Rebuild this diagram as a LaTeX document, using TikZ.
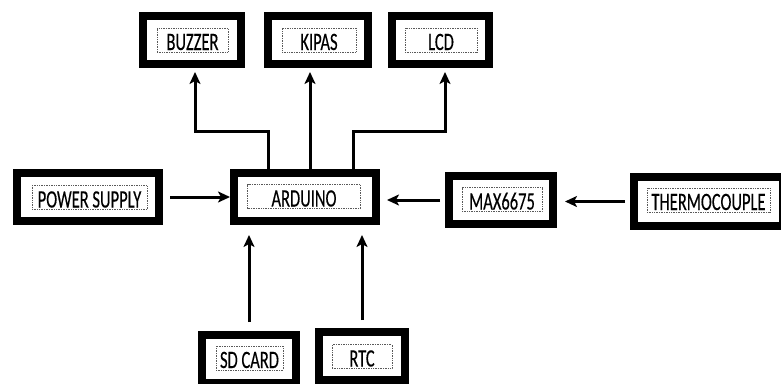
\documentclass[tikz,border=0pt]{standalone}
\usepackage{fontspec}
\setmainfont{Carlito}[FakeStretch=0.66, FakeBold=0.3]
\usetikzlibrary{arrows.meta}

\begin{document}
\begin{tikzpicture}[
      x=1pt, y=-1pt,
      frame/.style={draw, line width=8pt, minimum height=48pt, inner sep=0pt},
      lbl/.style={draw=black!65, densely dotted, line width=0.7pt, inner sep=0pt,
                  text height=22pt, text depth=2pt, font=\fontsize{25}{25}\selectfont},
      arr/.style={-{Stealth[length=12pt,width=11pt,inset=3pt]}, line width=3pt}
    ]
    \useasboundingbox (0,0) rectangle (781,383);

    % outer frames
    \node[frame, minimum width=98pt]  (buzzer)  at (192,40)      {};
    \node[frame, minimum width=100pt] (kipas)   at (318,40)      {};
    \node[frame, minimum width=97pt]  (lcd)     at (440.5,40)    {};
    \node[frame, minimum width=142pt] (psu)     at (88,197)      {};
    \node[frame, minimum width=142pt] (arduino) at (305,197)     {};
    \node[frame, minimum width=104pt] (max)     at (501,200)     {};
    \node[frame, minimum width=149pt, minimum height=49pt] (thermo) at (708.5,201.5) {};
    \node[frame, minimum width=94pt]  (sd)      at (249,359)     {};
    \node[frame, minimum width=86pt]  (rtc)     at (362,356)     {};

    % dotted text boxes
    \node[lbl, minimum width=71pt]  (buzzerT)  at (192.5,40)   {BUZZER};
    \node[lbl, minimum width=74pt]  (kipasT)   at (319,40)     {KIPAS};
    \node[lbl, minimum width=72pt]  (lcdT)     at (441,40)     {LCD};
    \node[lbl, minimum width=115pt] (psuT)     at (89.5,197.5) {POWER SUPPLY};
    \node[lbl, minimum width=113pt] (arduinoT) at (304,196.5)  {ARDUINO};
    \node[lbl, minimum width=80pt]  (maxT)     at (502,199.5)  {MAX6675};
    \node[lbl, minimum width=123pt] (thermoT)  at (708.5,200)  {THERMOCOUPLE};
    \node[lbl, minimum width=67pt]  (sdT)      at (249.5,358)  {SD CARD};
    \node[lbl, minimum width=60pt]  (rtcT)     at (362,356.5)  {RTC};

    % connections
    \draw[arr, shorten >=4pt] ([xshift=-37pt]arduino.north) -- ++(0,-38) -| ([xshift=3pt]buzzer.south);
    \draw[arr, shorten >=4pt] ([xshift=5pt]arduino.north) -- ([xshift=-8pt]kipas.south);
    \draw[arr, shorten >=4pt] ([xshift=48pt]arduino.north) -- ++(0,-38) -| ([xshift=4.5pt]lcd.south);
    \draw[arr, shorten <=7pt] (psu.east) -- (psu.east -| arduino.west);
    \draw[arr, shorten <=5pt, shorten >=7pt] (max.west) -- (max.west -| arduino.east);
    \draw[arr, shorten <=5pt, shorten >=8pt] (thermo.west) -- (thermo.west -| max.east);
    \draw[arr, shorten <=9pt, shorten >=10pt] (sd.north) -- (sd.north |- arduino.south);
    \draw[arr, shorten <=8pt, shorten >=10pt] (rtc.north) -- (rtc.north |- arduino.south);
  \end{tikzpicture}
\end{document}
